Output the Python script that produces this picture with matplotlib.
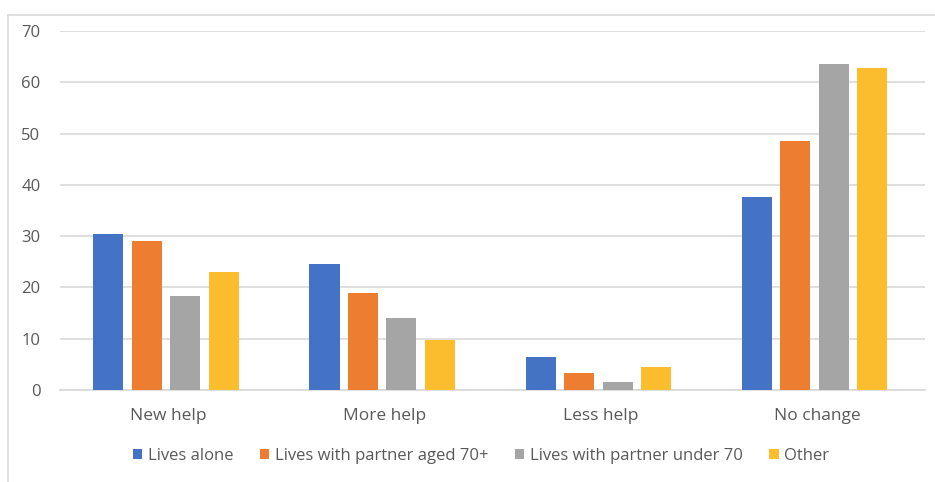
import numpy as np
import matplotlib
matplotlib.use("Agg")
import matplotlib.pyplot as plt
from matplotlib.lines import Line2D

categories = ["New help", "More help", "Less help", "No change"]
series_names = [
    "Lives alone",
    "Lives with partner aged 70+",
    "Lives with partner under 70",
    "Other",
]
lives_alone = [30.4, 24.6, 6.5, 37.6]
partner_70_plus = [29.0, 18.9, 3.4, 48.5]
partner_under_70 = [18.3, 14.0, 1.5, 63.5]
other = [23.0, 9.7, 4.4, 62.8]
yticks = [0, 10, 20, 30, 40, 50, 60, 70]

colors = ["#4472c4", "#ed7d31", "#a5a5a5", "#fbbd2e"]
text_color = "#595959"
grid_color = "#d9d9d9"

plt.rcParams["font.family"] = ["Open Sans", "DejaVu Sans"]

W, H = 935, 482
fig = plt.figure(figsize=(W / 100, H / 100), dpi=100)
ax = fig.add_axes([60 / W, 1 - 390 / H, 865 / W, 359 / H])

x = np.arange(len(categories))
step = 0.178
width = 0.139
all_series = [lives_alone, partner_70_plus, partner_under_70, other]
for i, (vals, name, col) in enumerate(zip(all_series, series_names, colors)):
    ax.bar(x + (i - 1.5) * step - 0.01, vals, width=width, color=col, label=name, zorder=3)

ax.set_xlim(-0.5, len(categories) - 0.5)
ax.set_ylim(0, 70)
ax.set_yticks(yticks)
ax.set_xticks(x)
ax.set_xticklabels(categories)
ax.yaxis.grid(True, color=grid_color, linewidth=1.2, zorder=0)
ax.set_axisbelow(True)
for s in ["top", "right", "left"]:
    ax.spines[s].set_visible(False)
ax.spines["bottom"].set_color(grid_color)
ax.spines["bottom"].set_linewidth(1.2)
ax.tick_params(axis="both", length=0, colors=text_color, labelsize=12.5)
ax.tick_params(axis="y", pad=14, labelsize=12)
ax.tick_params(axis="x", pad=13)

leg = fig.legend(
    loc="center", bbox_to_anchor=(481 / W, 1 - 456 / H), ncol=4,
    frameon=False, fontsize=12, handlelength=0.55, handleheight=0.55,
    handletextpad=0.35, columnspacing=1.6,
)
for t in leg.get_texts():
    t.set_color(text_color)

# chart frame (light border)
fig.add_artist(Line2D([8 / W, 1], [1 - 15 / H, 1 - 15 / H], color=grid_color, lw=1.2))
fig.add_artist(Line2D([8 / W, 8 / W], [0, 1 - 15 / H], color=grid_color, lw=1.2))

fig.savefig("out.png", dpi=100)
